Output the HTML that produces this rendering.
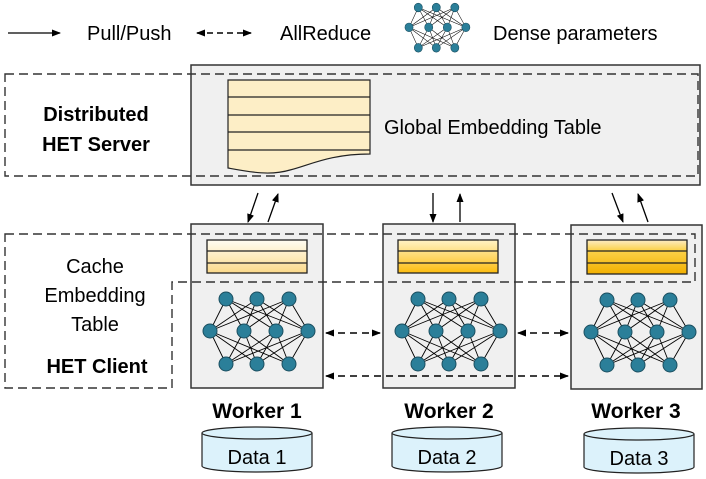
<!DOCTYPE html>
<html><head><meta charset="utf-8"><style>
body{margin:0;background:#fff;width:706px;height:479px;overflow:hidden}
svg{display:block;font-family:"Liberation Sans","DejaVu Sans",sans-serif}
</style></head><body>
<svg width="706" height="479" viewBox="0 0 706 479">
<defs>
<marker id="ah" markerWidth="9" markerHeight="9" refX="8" refY="4.5" orient="auto" markerUnits="userSpaceOnUse"><path d="M0,1 L9,4.5 L0,8z" fill="#000"/></marker>
<marker id="as" markerWidth="9" markerHeight="9" refX="1" refY="4.5" orient="auto" markerUnits="userSpaceOnUse"><path d="M9,1 L0,4.5 L9,8z" fill="#000"/></marker>
<linearGradient id="g1" x1="0" y1="0" x2="0" y2="1"><stop offset="0" stop-color="#fffdf3"/><stop offset="1" stop-color="#fbd98a"/></linearGradient>
<linearGradient id="g2" x1="0" y1="0" x2="0" y2="1"><stop offset="0" stop-color="#fff3c6"/><stop offset="1" stop-color="#fdbd10"/></linearGradient>
<linearGradient id="g3" x1="0" y1="0" x2="0" y2="1"><stop offset="0" stop-color="#fdecc4"/><stop offset="0.3" stop-color="#fcd24a"/><stop offset="1" stop-color="#f2b000"/></linearGradient>
<g id="nn">
<g stroke="#000" stroke-width="0.9">
<path d="M35,75 L19,107 M35,75 L53,107 M35,75 L85,107 M35,75 L117,107 M66,75 L19,107 M66,75 L53,107 M66,75 L85,107 M66,75 L117,107 M98,75 L19,107 M98,75 L53,107 M98,75 L85,107 M98,75 L117,107"/>
<path d="M35,140 L19,107 M35,140 L53,107 M35,140 L85,107 M35,140 L117,107 M66,140 L19,107 M66,140 L53,107 M66,140 L85,107 M66,140 L117,107 M98,140 L19,107 M98,140 L53,107 M98,140 L85,107 M98,140 L117,107"/>
</g>
<g fill="#2b7f99" stroke="#1b4f60" stroke-width="1">
<circle cx="35" cy="75" r="7"/><circle cx="66" cy="75" r="7"/><circle cx="98" cy="75" r="7"/>
<circle cx="19" cy="107" r="7"/><circle cx="53" cy="107" r="7"/><circle cx="85" cy="107" r="7"/><circle cx="117" cy="107" r="7"/>
<circle cx="35" cy="140" r="7"/><circle cx="66" cy="140" r="7"/><circle cx="98" cy="140" r="7"/>
</g>
</g>
</defs>

<!-- legend -->
<line x1="8" y1="33" x2="60" y2="33" stroke="#000" stroke-width="1.3" marker-end="url(#ah)"/>
<text x="87" y="40" font-size="20">Pull/Push</text>
<line x1="197" y1="33" x2="251" y2="33" stroke="#000" stroke-width="1.5" stroke-dasharray="6,4" marker-start="url(#as)" marker-end="url(#ah)"/>
<text x="280" y="40" font-size="20">AllReduce</text>
<use href="#nn" transform="translate(398,-39) scale(0.58,0.62)"/>
<text x="493" y="40" font-size="20">Dense parameters</text>

<!-- server -->
<rect x="191" y="65" width="509" height="120" fill="#f0f0f0" stroke="#333" stroke-width="1.5"/>
<path d="M228,80 H370 V154 C330,154 310,165 290,170 C270,176 250,172 228,168 Z" fill="#fdeec6" stroke="#222" stroke-width="1.2"/>
<g stroke="#222" stroke-width="1.2"><line x1="228" y1="97" x2="370" y2="97"/><line x1="228" y1="115" x2="370" y2="115"/><line x1="228" y1="132" x2="370" y2="132"/><line x1="228" y1="150" x2="370" y2="150"/></g>
<text x="384" y="134" font-size="20">Global Embedding Table</text>
<rect x="5" y="74" width="693" height="102" fill="none" stroke="#333" stroke-width="1.4" stroke-dasharray="9,5"/>
<text x="96" y="121" font-size="20" font-weight="bold" text-anchor="middle">Distributed</text>
<text x="96" y="151" font-size="20" font-weight="bold" text-anchor="middle">HET Server</text>

<!-- pull/push arrows -->
<g stroke="#000" stroke-width="1.3">
<line x1="258" y1="193" x2="248" y2="222" marker-end="url(#ah)"/>
<line x1="268" y1="222" x2="278" y2="194" marker-end="url(#ah)"/>
<line x1="433" y1="193" x2="433" y2="222" marker-end="url(#ah)"/>
<line x1="460" y1="222" x2="460" y2="194" marker-end="url(#ah)"/>
<line x1="612" y1="193" x2="623" y2="222" marker-end="url(#ah)"/>
<line x1="648" y1="222" x2="638" y2="194" marker-end="url(#ah)"/>
</g>

<!-- workers -->
<g>
<rect x="191" y="224" width="132" height="164" fill="#f0f0f0" stroke="#333" stroke-width="1.5"/>
<rect x="383" y="224" width="132" height="164" fill="#f0f0f0" stroke="#333" stroke-width="1.5"/>
<rect x="571" y="225" width="131" height="164" fill="#f0f0f0" stroke="#333" stroke-width="1.5"/>
</g>
<g stroke="#222" stroke-width="1.3">
<rect x="207" y="240" width="100" height="33" fill="url(#g1)"/><line x1="207" y1="251" x2="307" y2="251"/><line x1="207" y1="263" x2="307" y2="263"/>
<rect x="398" y="240" width="100" height="33" fill="url(#g2)"/><line x1="398" y1="251" x2="498" y2="251"/><line x1="398" y1="263" x2="498" y2="263"/>
<rect x="587" y="240" width="100" height="34" fill="url(#g3)"/><line x1="587" y1="251" x2="687" y2="251"/><line x1="587" y1="263" x2="687" y2="263"/>
</g>
<use href="#nn" transform="translate(191,224)"/>
<use href="#nn" transform="translate(383,224)"/>
<use href="#nn" transform="translate(572,225)"/>

<!-- client dashed -->
<path d="M5,234 H695 V282 H172 V388 H5 Z" fill="none" stroke="#333" stroke-width="1.4" stroke-dasharray="9,5"/>
<text x="95" y="273" font-size="20" text-anchor="middle">Cache</text>
<text x="95" y="302" font-size="20" text-anchor="middle">Embedding</text>
<text x="95" y="331" font-size="20" text-anchor="middle">Table</text>
<text x="97" y="373" font-size="20" font-weight="bold" text-anchor="middle">HET Client</text>

<!-- allreduce -->
<g stroke="#000" stroke-width="1.6" stroke-dasharray="7,5">
<line x1="326" y1="333" x2="380" y2="333" marker-start="url(#as)" marker-end="url(#ah)"/>
<line x1="518" y1="333" x2="568" y2="333" marker-start="url(#as)" marker-end="url(#ah)"/>
<line x1="326" y1="376" x2="568" y2="376" marker-start="url(#as)" marker-end="url(#ah)"/>
</g>

<!-- labels -->
<g font-size="21" font-weight="bold" text-anchor="middle">
<text x="257" y="418">Worker 1</text>
<text x="449" y="418">Worker 2</text>
<text x="636" y="418">Worker 3</text>
</g>
<!-- data cylinders -->
<g stroke="#222" stroke-width="1.2" fill="#dcf2fb">
<path d="M202,433 V466 A55,6 0 0 0 312,466 V433"/><ellipse cx="257" cy="433" rx="55" ry="6"/>
<path d="M392,433 V466 A55,6 0 0 0 502,466 V433"/><ellipse cx="447" cy="433" rx="55" ry="6"/>
<path d="M584,434 V467 A55,6 0 0 0 694,467 V434"/><ellipse cx="639" cy="434" rx="55" ry="6"/>
</g>
<g font-size="20" text-anchor="middle">
<text x="257" y="464">Data 1</text>
<text x="447" y="464">Data 2</text>
<text x="639" y="465">Data 3</text>
</g>
</svg>
</body></html>
